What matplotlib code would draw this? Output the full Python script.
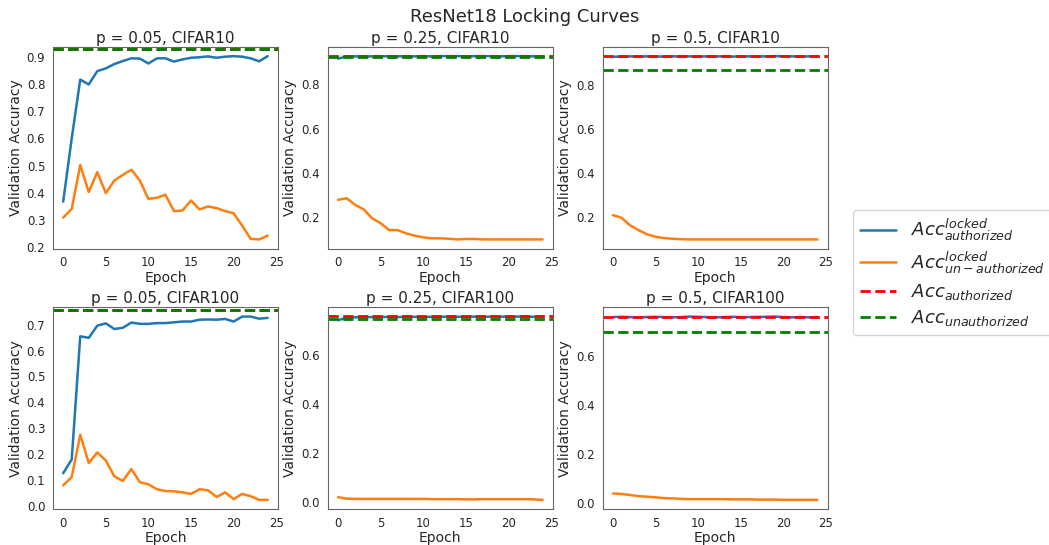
import matplotlib
matplotlib.use("Agg")
import matplotlib.pyplot as plt
import seaborn as sns
import numpy as np

sns.set_style("white")
plt.rcParams['font.family'] = ['DejaVu Sans']

epochs = list(range(25))

# p = 0.05, CIFAR10
c10_p05_locked_auth = [0.368, 0.60, 0.816, 0.798, 0.847, 0.857, 0.873, 0.884, 0.894, 0.893,
                       0.875, 0.894, 0.894, 0.882, 0.890, 0.896, 0.898, 0.901, 0.896, 0.900,
                       0.902, 0.900, 0.894, 0.883, 0.902]
c10_p05_locked_unauth = [0.309, 0.341, 0.502, 0.403, 0.476, 0.399, 0.445, 0.466, 0.485, 0.445,
                         0.378, 0.382, 0.393, 0.333, 0.335, 0.372, 0.339, 0.350, 0.344, 0.333,
                         0.325, 0.280, 0.231, 0.229, 0.243]
c10_p05_auth = 0.928
c10_p05_unauth = 0.927

# p = 0.25, CIFAR10
c10_p25_locked_auth = [0.917, 0.926, 0.927, 0.927, 0.927, 0.927, 0.928, 0.927, 0.928, 0.927,
                       0.928, 0.927, 0.928, 0.928, 0.928, 0.927, 0.928, 0.928, 0.928, 0.927,
                       0.928, 0.928, 0.928, 0.927, 0.928]
c10_p25_locked_unauth = [0.279, 0.286, 0.256, 0.236, 0.195, 0.173, 0.142, 0.142, 0.127, 0.117,
                         0.109, 0.105, 0.105, 0.103, 0.100, 0.102, 0.102, 0.100, 0.100, 0.100,
                         0.100, 0.100, 0.100, 0.100, 0.100]
c10_p25_auth = 0.928
c10_p25_unauth = 0.924

# p = 0.5, CIFAR10
c10_p50_locked_auth = [0.926, 0.927, 0.928, 0.927, 0.928, 0.928, 0.927, 0.928, 0.928, 0.928,
                       0.927, 0.928, 0.928, 0.928, 0.927, 0.928, 0.928, 0.928, 0.928, 0.929,
                       0.928, 0.928, 0.927, 0.928, 0.928]
c10_p50_locked_unauth = [0.210, 0.198, 0.164, 0.142, 0.123, 0.112, 0.106, 0.103, 0.101, 0.100,
                         0.100, 0.100, 0.100, 0.100, 0.100, 0.100, 0.100, 0.100, 0.100, 0.100,
                         0.100, 0.100, 0.100, 0.100, 0.100]
c10_p50_auth = 0.928
c10_p50_unauth = 0.865

# p = 0.05, CIFAR100
c100_p05_locked_auth = [0.127, 0.180, 0.655, 0.649, 0.696, 0.705, 0.683, 0.688, 0.708, 0.703,
                        0.703, 0.706, 0.706, 0.709, 0.712, 0.712, 0.719, 0.720, 0.719, 0.722,
                        0.712, 0.731, 0.731, 0.723, 0.726]
c100_p05_locked_unauth = [0.080, 0.112, 0.275, 0.166, 0.207, 0.176, 0.115, 0.097, 0.143, 0.092,
                          0.084, 0.065, 0.058, 0.057, 0.053, 0.047, 0.065, 0.061, 0.035, 0.053,
                          0.027, 0.047, 0.038, 0.024, 0.024]
c100_p05_auth = 0.757
c100_p05_unauth = 0.756

# p = 0.25, CIFAR100
c100_p25_locked_auth = [0.742, 0.753, 0.754, 0.755, 0.755, 0.755, 0.756, 0.755, 0.756, 0.756,
                        0.755, 0.756, 0.756, 0.757, 0.756, 0.756, 0.757, 0.756, 0.757, 0.757,
                        0.756, 0.757, 0.757, 0.756, 0.757]
c100_p25_locked_unauth = [0.018, 0.012, 0.011, 0.011, 0.011, 0.011, 0.011, 0.011, 0.011, 0.011,
                          0.011, 0.010, 0.010, 0.010, 0.010, 0.009, 0.009, 0.010, 0.010, 0.010,
                          0.010, 0.010, 0.010, 0.009, 0.007]
c100_p25_auth = 0.758
c100_p25_unauth = 0.749

# p = 0.5, CIFAR100
c100_p50_locked_auth = [0.757, 0.758, 0.757, 0.756, 0.757, 0.758, 0.757, 0.756, 0.757, 0.759,
                        0.758, 0.757, 0.756, 0.757, 0.758, 0.757, 0.757, 0.758, 0.758, 0.759,
                        0.757, 0.756, 0.757, 0.756, 0.757]
c100_p50_locked_unauth = [0.038, 0.036, 0.032, 0.027, 0.025, 0.022, 0.019, 0.018, 0.016, 0.015,
                          0.015, 0.015, 0.015, 0.015, 0.014, 0.014, 0.014, 0.013, 0.013, 0.013,
                          0.012, 0.012, 0.012, 0.012, 0.012]
c100_p50_auth = 0.756
c100_p50_unauth = 0.695

titles = ["p = 0.05, CIFAR10", "p = 0.25, CIFAR10", "p = 0.5, CIFAR10",
          "p = 0.05, CIFAR100", "p = 0.25, CIFAR100", "p = 0.5, CIFAR100"]
locked_auth = [c10_p05_locked_auth, c10_p25_locked_auth, c10_p50_locked_auth,
               c100_p05_locked_auth, c100_p25_locked_auth, c100_p50_locked_auth]
locked_unauth = [c10_p05_locked_unauth, c10_p25_locked_unauth, c10_p50_locked_unauth,
                 c100_p05_locked_unauth, c100_p25_locked_unauth, c100_p50_locked_unauth]
auth = [c10_p05_auth, c10_p25_auth, c10_p50_auth, c100_p05_auth, c100_p25_auth, c100_p50_auth]
unauth = [c10_p05_unauth, c10_p25_unauth, c10_p50_unauth,
          c100_p05_unauth, c100_p25_unauth, c100_p50_unauth]

labels = [r'$Acc^{locked}_{authorized}$', r'$Acc^{locked}_{un-authorized}$',
          r'$Acc_{authorized}$', r'$Acc_{unauthorized}$']

fig, axes = plt.subplots(2, 3, figsize=(10.49, 5.45), dpi=100)
fig.subplots_adjust(left=0.0505, right=0.789, top=0.9138, bottom=0.066,
                    wspace=0.222, hspace=0.292)

txtc = '.15'
for i, ax in enumerate(axes.flat):
    h1, = ax.plot(epochs, locked_auth[i], color='#1f77b4', lw=1.8)
    h2, = ax.plot(epochs, locked_unauth[i], color='#ff7f0e', lw=1.8)
    h3 = ax.axhline(auth[i], color='red', ls='--', lw=2)
    h4 = ax.axhline(unauth[i], color='green', ls='--', lw=2)
    ax.set_title(titles[i], fontsize=11, color=txtc, pad=3)
    ax.set_xlabel("Epoch", fontsize=10, color=txtc, labelpad=1)
    ax.set_ylabel("Validation Accuracy", fontsize=10, color=txtc, labelpad=3)
    ax.tick_params(labelsize=8.5, colors=txtc, pad=2)
    for s in ax.spines.values():
        s.set_color('.4')
    if i == 0:
        handles = [h1, h2, h3, h4]

fig.suptitle("ResNet18 Locking Curves", fontsize=13, color=txtc, y=0.985)
fig.legend(handles, labels, loc='center left', bbox_to_anchor=(0.8045, 0.5),
           fontsize=13, frameon=True, handlelength=2.0, labelcolor=txtc,
           labelspacing=0.35)

fig.savefig("out.png", dpi=100)
